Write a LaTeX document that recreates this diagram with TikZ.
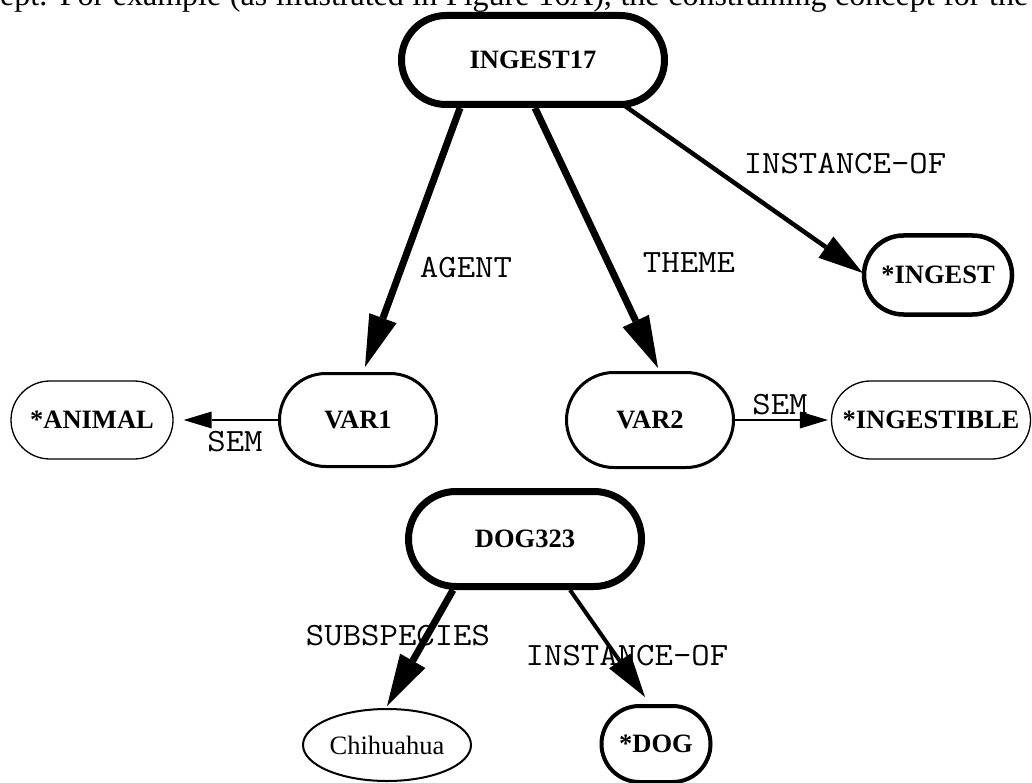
\documentclass[tikz,border=0pt]{standalone}
\usepackage{graphicx}
\usepackage{fontspec}
\setmainfont{Liberation Serif}
\usetikzlibrary{arrows.meta,shapes.misc,shapes.geometric,calc}
\newcommand\tw[1]{\scalebox{1.1}[1]{#1}}
\begin{document}
\begin{tikzpicture}[x=1pt,y=-1pt,
  pill/.style={rounded rectangle, draw, inner sep=0pt, font=\fontsize{26.5}{30}\selectfont\bfseries},
  lab/.style={font=\fontsize{32.5}{36}\selectfont\ttfamily, inner sep=0pt},
  heavy/.style={line width=7pt, -{Triangle[length=52pt,width=29pt,line width=0pt]}},
  medium/.style={line width=4.5pt, -{Triangle[length=45pt,width=26pt,line width=0pt]}},
  light/.style={line width=2pt, -{Triangle[length=28pt,width=17pt,line width=0pt]}}]
\useasboundingbox (0,0) rectangle (1032,783);

\node[anchor=base west, inner sep=0pt, font=\fontsize{32}{36}\selectfont] (para) at (0,6)
  {\makebox[1028pt][s]{ept. For example (as illustrated in Figure 16A), the constraining concept for the}};

\node[pill, line width=7pt, minimum width=263pt, minimum height=89pt] (ingest17) at (533,60) {INGEST17};
\node[pill, line width=4.5pt, minimum width=148pt, minimum height=79pt] (ingest) at (938,275) {*INGEST};
\node[pill, line width=3pt, minimum width=157pt, minimum height=93pt] (var1) at (358,420) {VAR1};
\node[pill, line width=3pt, minimum width=167pt, minimum height=95pt] (var2) at (650,420) {VAR2};
\node[pill, line width=1.3pt, minimum width=162pt, minimum height=78pt] (animal) at (92,420) {*ANIMAL};
\node[pill, line width=1.3pt, minimum width=199pt, minimum height=78pt] (ingestible) at (931,420) {*INGESTIBLE};
\node[pill, line width=7pt, minimum width=233pt, minimum height=95pt] (dog323) at (525,539) {DOG323};
\node[ellipse, draw, line width=2pt, minimum width=168pt, minimum height=72pt, inner sep=0pt,
      font=\fontsize{26.5}{30}\selectfont] (chi) at (387,745) {Chihuahua};
\node[pill, line width=4pt, minimum width=109pt, minimum height=76pt] (dog) at (656,744) {*DOG};

\draw[heavy] ($(ingest17.south)+(-73,0)$) -- ($(var1.north)+(7,-5)$);
\draw[heavy] ($(ingest17.south)+(2,0)$) -- ($(var2.north)+(8,-3)$);
\draw[medium] ($(ingest17.south)+(92,-2)$) -- ($(ingest.west)+(1,-2)$);
\draw[light] (var1.west) -- ($(animal.east)+(10,0)$);
\draw[light] (var2.east) -- ($(ingestible.west)+(-3,0)$);
\draw[heavy] ($(dog323.south)+(-72,0)$) -- ($(chi.north)+(0,-2)$);
\draw[line width=4pt, -{Triangle[length=44pt,width=26pt,line width=0pt]}] ($(dog323.south)+(45,0)$) -- ($(dog.north)+(-11,-7)$);

\node[lab] (lagent) at (466,268) {\tw{AGENT}};
\node[lab] (ltheme) at (689,263) {\tw{THEME}};
\node[lab] (linst1) at (845,164) {\tw{INSTANCE-OF}};
\node[lab] (lsem1) at (235,442) {\tw{SEM}};
\node[lab] (lsem2) at (780,405) {\tw{SEM}};
\node[lab] (lsub) at (398,636) {\tw{SUBSPECIES}};
\node[lab] (linst2) at (627,656) {\tw{INSTANCE-OF}};
\end{tikzpicture}
\end{document}
